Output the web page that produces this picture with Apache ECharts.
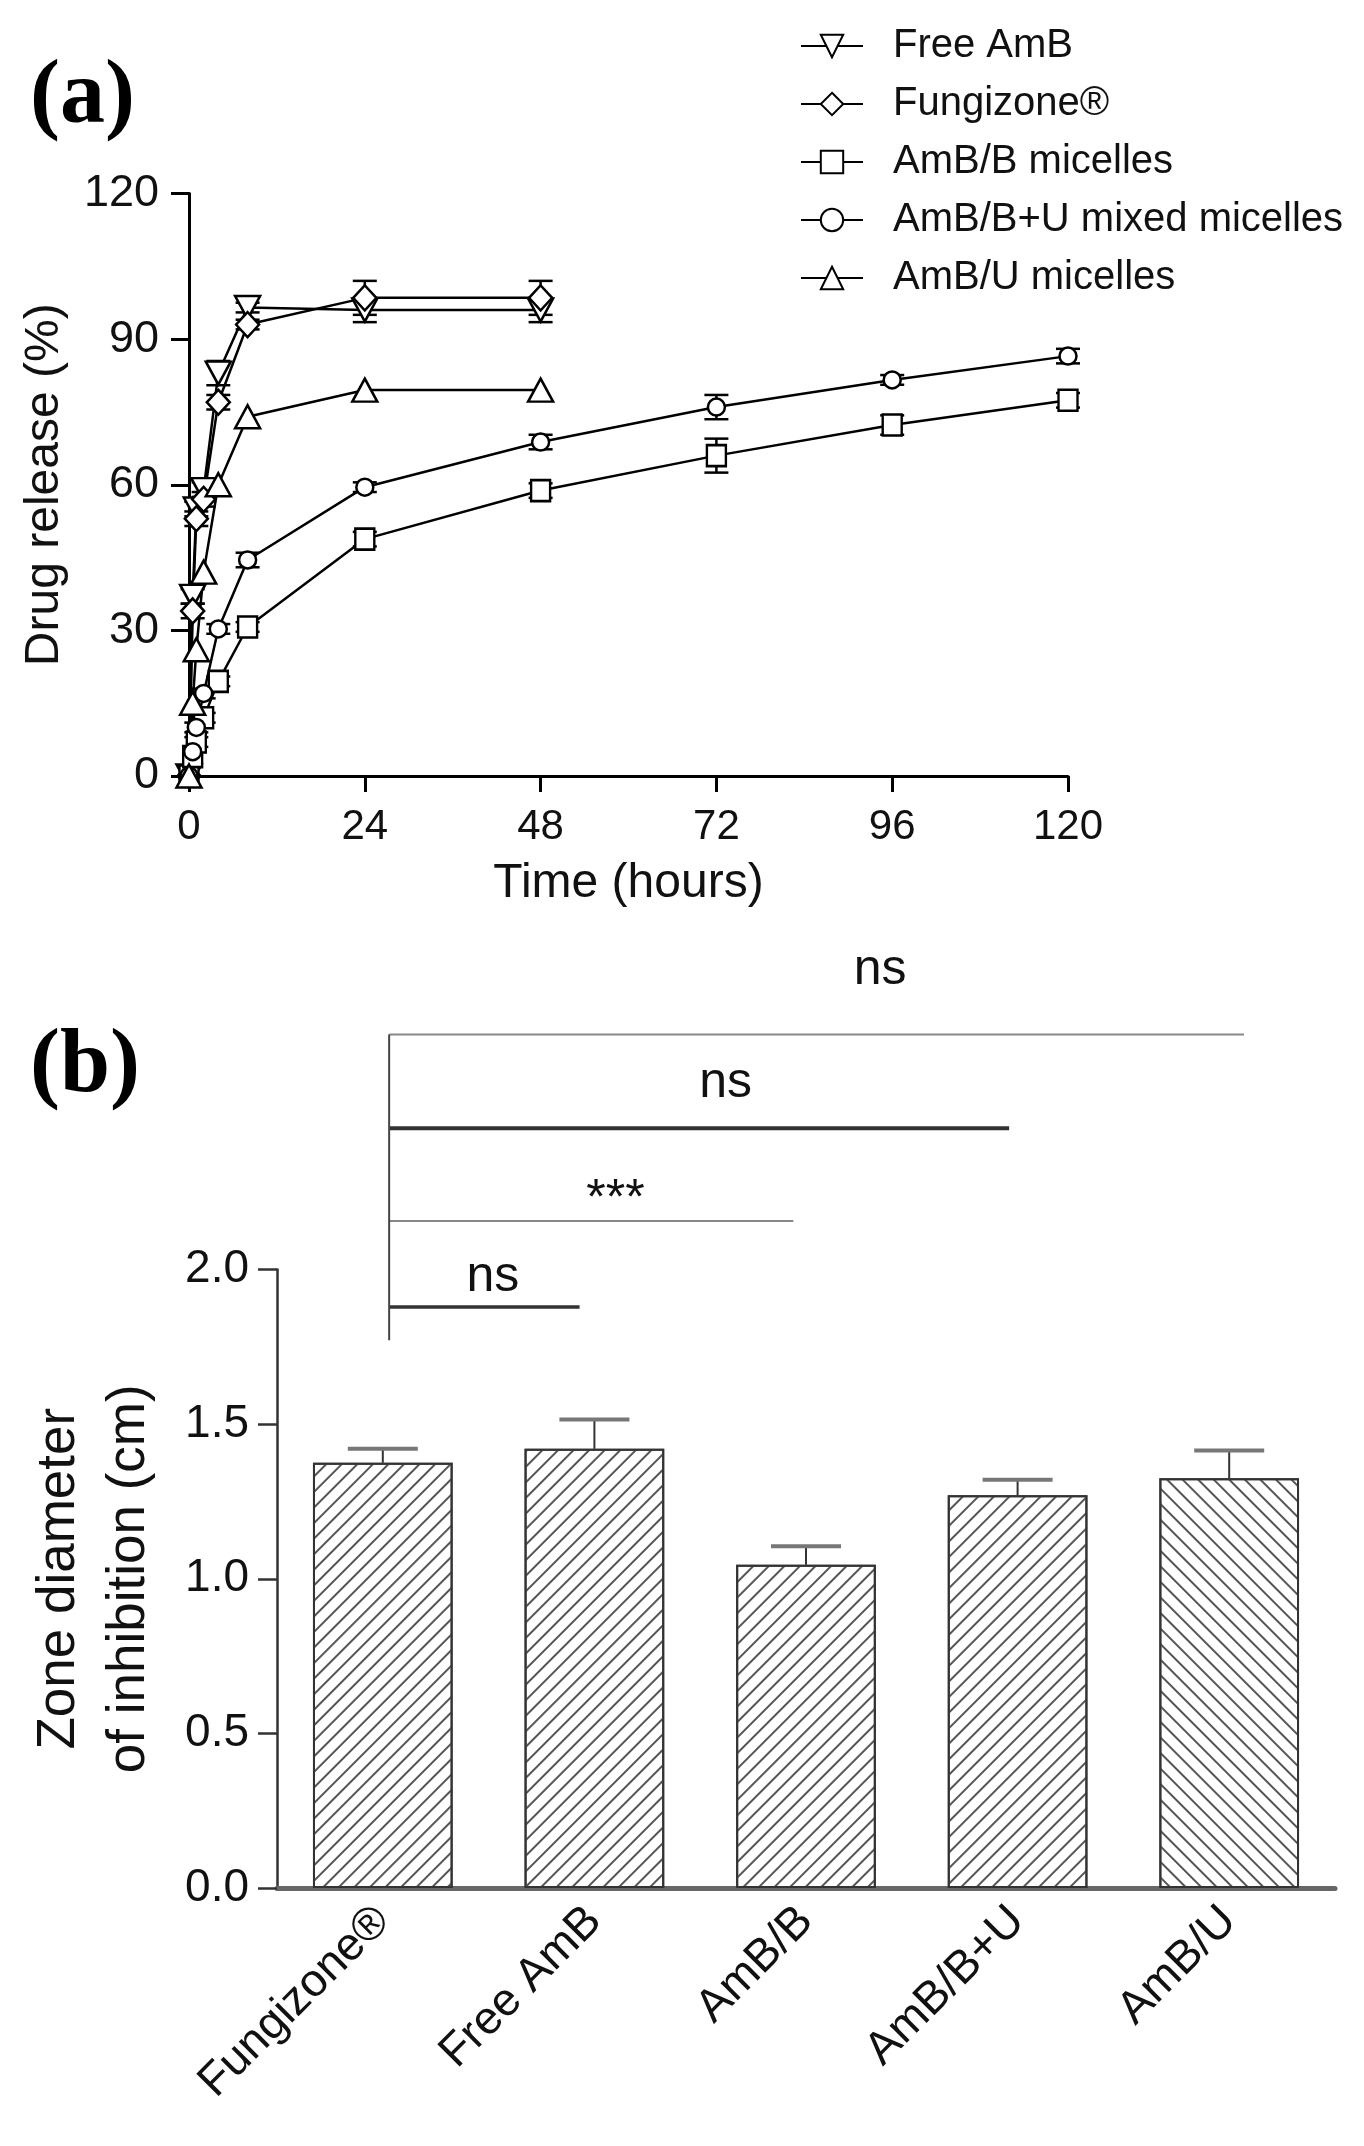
<!DOCTYPE html>
<html><head><meta charset="utf-8">
<script src="https://cdn.jsdelivr.net/npm/echarts@6/dist/echarts.min.js"></script>
<style>html,body{margin:0;padding:0;background:#fff}#c{width:1364px;height:2146px}</style>
</head><body><div id="c"></div>
<script>
// ---------- Panel (a) data: drug release (%) vs time (hours) ----------
const seriesNames = ['Free AmB', 'Fungizone®', 'AmB/B micelles', 'AmB/B+U mixed micelles', 'AmB/U micelles'];
const timesShort = [0, 0.5, 1, 2, 4, 8, 24, 48];
const timesLong = [0, 0.5, 1, 2, 4, 8, 24, 48, 72, 96, 120];
const freeAmB = [0, 37, 55, 59, 83, 96.5, 96, 96];
const freeAmBErr = [0, 1.5, 1.5, 1.5, 2.5, 1, 2.5, 2.5];
const fungizone = [0, 34, 53, 57, 77, 93, 98.5, 98.5];
const fungizoneErr = [0, 1.5, 1.5, 1.5, 1.5, 1, 3.5, 3.5];
const ambB = [0, 4, 7, 12, 19.5, 30.7, 48.8, 58.8, 66, 72.3, 77.4];
const ambBErr = [0, 0, 1, 1, 1, 1, 1.5, 1.5, 3.5, 2, 1.5];
const ambBU = [0, 5, 10, 17, 30.3, 44.5, 59.5, 68.8, 76, 81.6, 86.5];
const ambBUErr = [0, 0, 1, 1, 1, 1.5, 1, 1.5, 2.5, 1, 1.5];
const ambU = [0, 15, 26, 42, 60, 74, 79.5, 79.5];
const ambUErr = [0, 0, 0, 0, 0, 0, 0, 0];
const releaseTicks = [0, 30, 60, 90, 120];
const timeTicks = [0, 24, 48, 72, 96, 120];

// ---------- Panel (b) data: zone diameter of inhibition (cm) ----------
const barCategories = ['Fungizone®', 'Free AmB', 'AmB/B', 'AmB/B+U', 'AmB/U'];
const zoneMean = [1.375, 1.42, 1.045, 1.27, 1.325];
const zoneSD = [0.045, 0.095, 0.06, 0.05, 0.09];
const zoneTicks = [0, 0.5, 1.0, 1.5, 2.0];
const sigLabels = ['ns', '***', 'ns', 'ns'];      // Fungizone® vs Free AmB, AmB/B, AmB/B+U, AmB/U
const sigLevels = [1.879, 2.157, 2.457, 2.76];    // bracket heights (cm units)

// ---------- layout / style (not data) ----------
const FONT = '"Liberation Sans", Arial, sans-serif';
const NARROW = '"Liberation Sans Narrow", "Arial Narrow", "Liberation Sans", Arial, sans-serif';
const sigLayout = {
  start: 0.03, bottom: 1.771,
  ends: [0.93, 1.94, 2.96, 4.07],
  labelX: [0.52, 1.10, 1.62, 2.35],
  labelY: [1.975, 2.224, 2.602, 2.967],
  widths: [3.5, 2, 4, 2],
  colors: ['#333', '#888', '#333', '#888']
};
const markerStyle = [
  { symbol: 'triangle', size: [25, 23], rotate: 180 },
  { symbol: 'diamond', size: [23, 25], rotate: 0 },
  { symbol: 'rect', size: [19, 21], rotate: 0 },
  { symbol: 'circle', size: 17, rotate: 0 },
  { symbol: 'triangle', size: [25, 23], rotate: 0 }
];
const releaseData = [
  [timesShort, freeAmB, freeAmBErr],
  [timesShort, fungizone, fungizoneErr],
  [timesLong, ambB, ambBErr],
  [timesLong, ambBU, ambBUErr],
  [timesShort, ambU, ambUErr]
];

const chart = echarts.init(document.getElementById('c'), null, { renderer: 'canvas' });

const series = [];
releaseData.forEach(([t, v, e], k) => {
  series.push({
    type: 'custom', name: seriesNames[k] + ' err', xAxisIndex: 0, yAxisIndex: 0, z: 1, silent: true, clip: false,
    data: t.map((x, i) => [x, v[i], e[i]]).filter(d => d[2] > 0),
    renderItem(params, api) {
      const x = api.value(0), y = api.value(1), er = api.value(2);
      const top = api.coord([x, y + er]), bot = api.coord([x, y - er]);
      const w = 12, st = { stroke: '#000', lineWidth: 2.5 };
      return { type: 'group', children: [
        { type: 'line', shape: { x1: top[0], y1: top[1], x2: bot[0], y2: bot[1] }, style: st },
        { type: 'line', shape: { x1: top[0] - w, y1: top[1], x2: top[0] + w, y2: top[1] }, style: st },
        { type: 'line', shape: { x1: bot[0] - w, y1: bot[1], x2: bot[0] + w, y2: bot[1] }, style: st }
      ] };
    }
  });
});
releaseData.forEach(([t, v], k) => {
  series.push({
    type: 'line', name: seriesNames[k], xAxisIndex: 0, yAxisIndex: 0, z: 3,
    data: t.map((x, i) => [x, v[i]]),
    symbol: markerStyle[k].symbol, symbolSize: markerStyle[k].size, symbolRotate: markerStyle[k].rotate,
    showAllSymbol: true,
    lineStyle: { color: '#000', width: 2.5 },
    itemStyle: { color: '#fff', borderColor: '#000', borderWidth: 2.5 },
    emphasis: { disabled: true }
  });
});

const decalFwd = { symbol: 'rect', dashArrayX: [1, 0], dashArrayY: [2, 9], rotation: -Math.PI / 4, color: '#555' };
const decalBack = { symbol: 'rect', dashArrayX: [1, 0], dashArrayY: [2, 9], rotation: Math.PI / 4, color: '#555' };

series.push({
  type: 'bar', name: 'zone', xAxisIndex: 1, yAxisIndex: 1, barCategoryGap: '34%',
  data: zoneMean.map((v, i) => ({ value: v, itemStyle: { decal: i === barCategories.length - 1 ? decalBack : decalFwd } })),
  itemStyle: { color: '#fff', borderColor: '#333', borderWidth: 2 },
  emphasis: { disabled: true }
});
series.push({
  type: 'custom', name: 'zone err', xAxisIndex: 1, yAxisIndex: 1, z: 4, silent: true, clip: false,
  data: zoneMean.map((v, i) => [i, v, zoneSD[i]]),
  renderItem(params, api) {
    const base = api.coord([api.value(0), api.value(1)]);
    const top = api.coord([api.value(0), api.value(1) + api.value(2)]);
    return { type: 'group', children: [
      { type: 'line', shape: { x1: base[0], y1: base[1], x2: top[0], y2: top[1] }, style: { stroke: '#333', lineWidth: 2 } },
      { type: 'line', shape: { x1: top[0] - 35, y1: top[1], x2: top[0] + 35, y2: top[1] }, style: { stroke: '#777', lineWidth: 4 } }
    ] };
  }
});
series.push({
  type: 'custom', name: 'sig', xAxisIndex: 2, yAxisIndex: 1, z: 4, silent: true, clip: false,
  data: sigLevels.map((lv, i) => [i, lv]),
  renderItem(params, api) {
    const i = api.value(0), lv = api.value(1);
    const p0 = api.coord([sigLayout.start, lv]);
    const p1 = api.coord([sigLayout.ends[i], lv]);
    const lp = api.coord([sigLayout.labelX[i], sigLayout.labelY[i]]);
    const ch = [
      { type: 'line', shape: { x1: p0[0], y1: p0[1], x2: p1[0], y2: p1[1] }, style: { stroke: sigLayout.colors[i], lineWidth: sigLayout.widths[i] } },
      { type: 'text', x: lp[0], y: lp[1], style: { text: sigLabels[i], font: '50px ' + FONT, fill: '#111', align: 'center', verticalAlign: 'middle' } }
    ];
    if (i === sigLevels.length - 1) {
      const vb = api.coord([sigLayout.start, sigLayout.bottom]);
      ch.push({ type: 'line', shape: { x1: p0[0], y1: p0[1], x2: vb[0], y2: vb[1] }, style: { stroke: '#444', lineWidth: 2 } });
    }
    return { type: 'group', children: ch };
  }
});

const option = {
  animation: false,
  backgroundColor: '#fff',
  textStyle: { fontFamily: FONT },
  grid: [
    { left: 189, right: 296, top: 193.5, bottom: 1370 },
    { left: 277, right: 29, top: 1269.5, bottom: 258 }
  ],
  legend: {
    data: seriesNames, orient: 'vertical', left: 795, top: 21,
    itemWidth: 62, itemHeight: 28, itemGap: 18,
    textStyle: { fontSize: 40, color: '#111', lineHeight: 40, padding: [0, 0, 0, 25], fontFamily: FONT },
    selectedMode: false
  },
  xAxis: [
    { gridIndex: 0, type: 'value', min: timeTicks[0], max: timeTicks[timeTicks.length - 1], interval: timeTicks[1] - timeTicks[0],
      name: 'Time (hours)', nameLocation: 'middle', nameGap: 80,
      nameTextStyle: { fontSize: 48, color: '#111', lineHeight: 56 },
      axisLine: { onZero: false, lineStyle: { color: '#000', width: 3 } },
      axisTick: { length: 16, lineStyle: { color: '#000', width: 3 } },
      axisLabel: { fontSize: 42, color: '#111', margin: 30, lineHeight: 42 },
      splitLine: { show: false } },
    { gridIndex: 1, type: 'category', data: barCategories,
      axisLine: { onZero: false, lineStyle: { color: '#666', width: 5 } },
      axisTick: { alignWithLabel: true, length: 18, lineStyle: { color: '#444', width: 2 } },
      axisLabel: { rotate: 45, fontSize: 46, color: '#111', margin: 26 } },
    { gridIndex: 1, type: 'value', min: -0.5, max: 4.5, show: false }
  ],
  yAxis: [
    { gridIndex: 0, type: 'value', min: releaseTicks[0], max: releaseTicks[releaseTicks.length - 1], interval: releaseTicks[1] - releaseTicks[0],
      name: 'Drug release (%)', nameLocation: 'middle', nameGap: 110,
      nameTextStyle: { fontSize: 48, color: '#111', lineHeight: 56 },
      axisLine: { show: true, onZero: false, lineStyle: { color: '#000', width: 3 } },
      axisTick: { show: true, length: 18, lineStyle: { color: '#000', width: 3 } },
      axisLabel: { fontSize: 45, fontFamily: NARROW, color: '#111', margin: 30 },
      splitLine: { show: false } },
    { gridIndex: 1, type: 'value', min: zoneTicks[0], max: zoneTicks[zoneTicks.length - 1], interval: zoneTicks[1] - zoneTicks[0],
      name: 'Zone diameter\nof inhibition (cm)', nameLocation: 'middle', nameGap: 113,
      nameTextStyle: { fontSize: 53, color: '#111', lineHeight: 70 },
      axisLine: { show: true, onZero: false, lineStyle: { color: '#333', width: 2.5 } },
      axisTick: { show: true, length: 19, lineStyle: { color: '#333', width: 2.5 } },
      axisLabel: { fontSize: 46, color: '#111', margin: 28, formatter: v => v.toFixed(1) },
      splitLine: { show: false } }
  ],
  graphic: [
    { type: 'text', x: 30, y: 99, style: { text: '(a)', font: 'bold 90px "Liberation Serif", "Times New Roman", serif', fill: '#000', verticalAlign: 'middle' } },
    { type: 'text', x: 30, y: 1068, style: { text: '(b)', font: 'bold 90px "Liberation Serif", "Times New Roman", serif', fill: '#000', verticalAlign: 'middle' } }
  ],
  series
};
chart.setOption(option);
</script></body></html>
